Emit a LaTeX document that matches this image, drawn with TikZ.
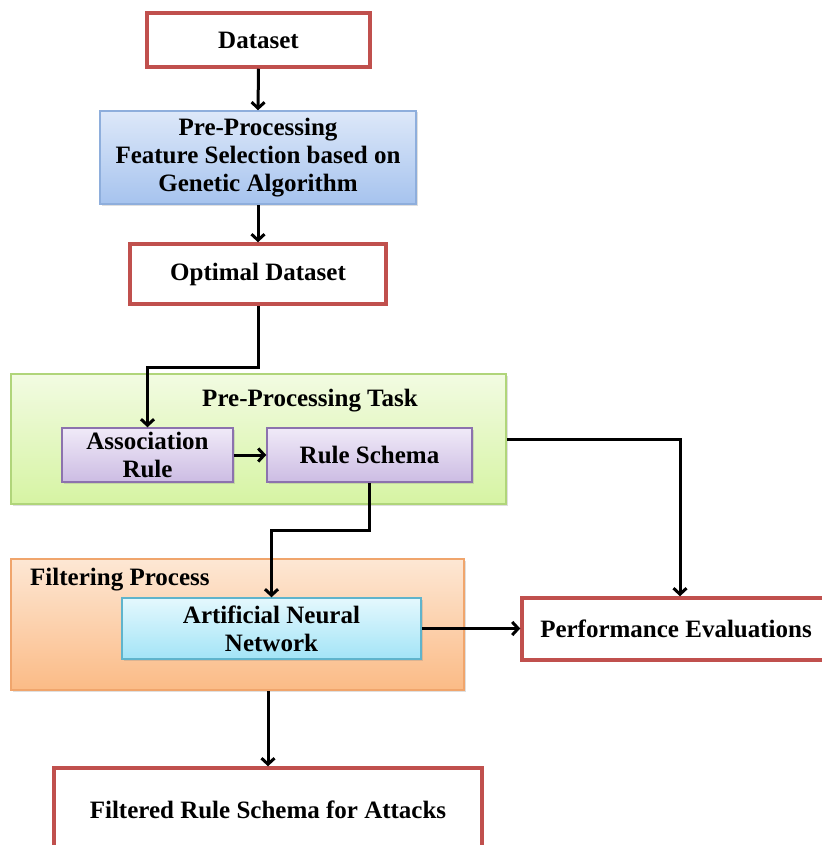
\documentclass[tikz,border=0pt]{standalone}
\usepackage{fontspec}
\setmainfont{Liberation Serif}
\usetikzlibrary{arrows.meta,shadows}
\definecolor{boxred}{HTML}{C0504D}
\definecolor{blueB}{HTML}{8EAEDC}
\definecolor{blueT}{HTML}{DDE8F9}
\definecolor{blueD}{HTML}{A6C3EE}
\definecolor{greenB}{HTML}{B0D57A}
\definecolor{greenT}{HTML}{F2FBE2}
\definecolor{greenD}{HTML}{D6F4A3}
\definecolor{purpB}{HTML}{8C72AE}
\definecolor{purpT}{HTML}{F0EAF8}
\definecolor{purpD}{HTML}{CCBCE3}
\definecolor{orB}{HTML}{F0A56C}
\definecolor{orT}{HTML}{FDE7D4}
\definecolor{orD}{HTML}{FBBB86}
\definecolor{cyB}{HTML}{5FB4CC}
\definecolor{cyT}{HTML}{E4F8FD}
\definecolor{cyD}{HTML}{A3E4F7}
\begin{document}
\begin{tikzpicture}[x=1pt,y=-1pt,
  every node/.style={font=\fontsize{25}{28}\selectfont\bfseries, align=center, inner sep=0pt},
  redbox/.style={draw=boxred, line width=3.5pt, fill=white},
  softshadow/.style={drop shadow={opacity=0.25, shadow xshift=1.5pt, shadow yshift=-1.5pt}},
  bluebox/.style={draw=blueB, line width=1.5pt, top color=blueT, bottom color=blueD, softshadow},
  greenbox/.style={draw=greenB, line width=1.5pt, top color=greenT, bottom color=greenD, softshadow},
  purpbox/.style={draw=purpB, line width=1.5pt, top color=purpT, bottom color=purpD, softshadow},
  orbox/.style={draw=orB, line width=1.5pt, top color=orT, bottom color=orD, softshadow},
  cybox/.style={draw=cyB, line width=1.5pt, top color=cyT, bottom color=cyD, softshadow},
  conn/.style={draw=black, line width=3pt, -{Straight Barb[length=6pt,width=13pt]}}
]
\useasboundingbox (0,0) rectangle (821,845);

% Containers
\node[greenbox, minimum width=495pt, minimum height=130pt] (green) at (258.5,439) {};
\node[orbox, minimum width=453pt, minimum height=131pt] (orange) at (237.5,624.5) {};
\node (pt) at (310,401) {Pre-Processing Task};
\node[anchor=west] (fp) at (30,580) {Filtering Process};

% Boxes
\node[redbox, minimum width=223pt, minimum height=54pt] (ds) at (258.5,40) {Dataset};
\node[bluebox, minimum width=316pt, minimum height=93pt] (pp) at (258,157.5)
  {Pre-Processing\\Feature Selection based on\\Genetic Algorithm};
\node[redbox, minimum width=256pt, minimum height=60pt] (od) at (258,274) {Optimal Dataset};
\node[purpbox, minimum width=171pt, minimum height=54pt] (ar) at (147.5,455) {Association\\Rule};
\node[purpbox, minimum width=205pt, minimum height=54pt] (rs) at (369.5,455) {Rule Schema};
\node[cybox, minimum width=299pt, minimum height=61pt] (ann) at (271.5,628.5) {Artificial Neural\\Network};
\node[redbox, minimum width=308pt, minimum height=62pt] (pe) at (676,629) {Performance Evaluations};
\node[redbox, minimum width=428pt, minimum height=84pt] (fr) at (268,810) {Filtered Rule Schema for Attacks};

% Connectors
\draw[conn] (ds.south) -- (pp.north);
\draw[conn] (pp.south) -- (od.north);
\draw[conn] (od.south) -- ++(0,62) -| (ar.north);
\draw[conn] (ar.east) -- (rs.west);
\coordinate (peIn) at ([xshift=4pt]pe.north);
\draw[conn] (green.east) -| (peIn);
\draw[conn] (rs.south) -- ++(0,48) -| (ann.north);
\draw[conn] (ann.east) -- (ann.east -| pe.west);
\draw[conn] (fr.north |- orange.south) -- (fr.north);
\end{tikzpicture}
\end{document}
